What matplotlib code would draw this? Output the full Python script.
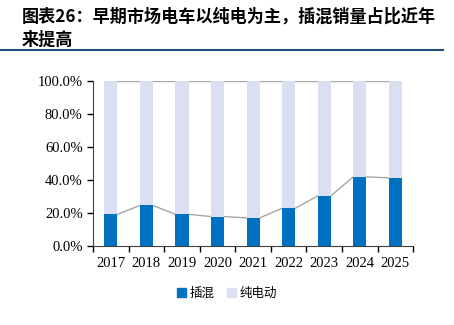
import matplotlib.pyplot as plt
from matplotlib.patches import Patch

# data
years = ['2017', '2018', '2019', '2020', '2021', '2022', '2023', '2024', '2025']
phev = [0.192, 0.245, 0.192, 0.178, 0.170, 0.228, 0.303, 0.418, 0.412]
bev = [1 - v for v in phev]
series_names = ['插混', '纯电动']

blue = '#0070C0'
lav = '#DAE0F2'
grey = '#A6A6A6'
w = 0.37

fig = plt.figure(figsize=(4.54, 3.25), dpi=100)
ax = fig.add_axes([0.205, 0.243, 0.705, 0.509])

x = list(range(len(years)))
ax.bar(x, phev, width=w, color=blue, zorder=3)
ax.bar(x, bev, width=w, bottom=phev, color=lav, zorder=3)

# series lines between bars
for i in range(len(years) - 1):
    ax.plot([i + w / 2, i + 1 - w / 2], [phev[i], phev[i + 1]], color=grey, lw=1, zorder=2)
    ax.plot([i + w / 2, i + 1 - w / 2], [1, 1], color=grey, lw=1, zorder=2)

ax.set_xlim(-0.5, len(years) - 0.5)
ax.set_ylim(0, 1)
ax.set_yticks([0, 0.2, 0.4, 0.6, 0.8, 1.0])
ax.set_yticklabels(['0.0%', '20.0%', '40.0%', '60.0%', '80.0%', '100.0%'],
                   family='Liberation Serif', fontsize=10.5)
ax.set_xticks(x)
ax.set_xticklabels(years, family='Liberation Serif', fontsize=10.5)
ax.set_xticks([i + 0.5 for i in range(-1, len(years))], minor=True)
ax.tick_params(axis='x', which='major', length=0, pad=8)
ax.tick_params(axis='x', which='minor', length=4, direction='out', width=1)
ax.tick_params(axis='y', length=4, direction='out', width=1)
for s in ['top', 'right']:
    ax.spines[s].set_visible(False)
ax.spines['left'].set_color('#404040')
ax.spines['bottom'].set_color('#404040')

handles = [Patch(color=blue), Patch(color=lav)]
fig.legend(handles, series_names, loc='center', bbox_to_anchor=(0.5, 1 - 293 / 325),
           ncol=2, frameon=False, prop={'family': 'Noto Sans CJK SC', 'size': 9},
           handlelength=0.7, handleheight=0.7, handletextpad=0.3, columnspacing=1.0)

# title
fig.text(22 / 454, 1 - 17 / 325, '图表26：早期市场电车以纯电为主，插混销量占比近年',
         family=['Noto Sans CJK SC', 'DejaVu Sans'], fontsize=12.3, fontweight='bold',
         va='center', ha='left')
fig.text(22 / 454, 1 - 40 / 325, '来提高',
         family=['Noto Sans CJK SC', 'DejaVu Sans'], fontsize=12.3, fontweight='bold',
         va='center', ha='left')
fig.add_artist(plt.Line2D([0, 443 / 454], [1 - 50 / 325, 1 - 50 / 325],
                          color='#1F4E79', lw=1.5))

fig.savefig('out.png', dpi=100)
